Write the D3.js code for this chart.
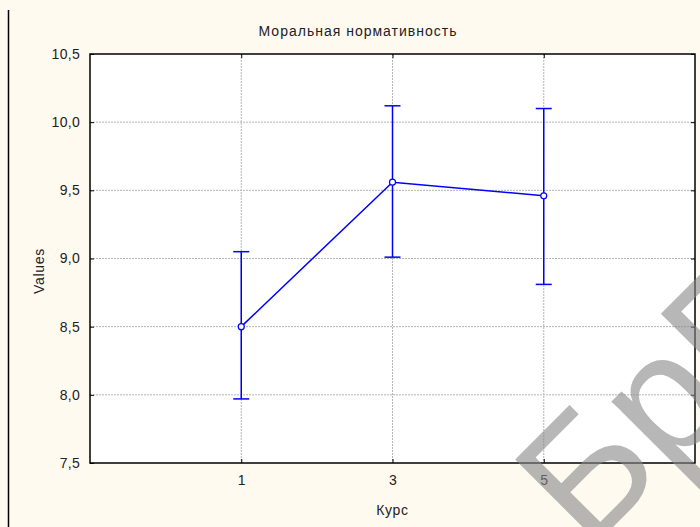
<!DOCTYPE html>
<meta charset="utf-8">
<title>Моральная нормативность</title>
<style>
  body { margin: 0; background: #fffaf0; }
  svg { display: block; font-family: "Liberation Sans", Arial, sans-serif; }
  .tick text { font-size: 14px; fill: #222; letter-spacing: 0.3px; }
</style>
<body>
<script src="https://cdn.jsdelivr.net/npm/d3@7"></script>
<script>

// data
var kurs = [1, 3, 5];
var means = [8.50, 9.56, 9.46];
var lower = [7.97, 9.01, 8.81];
var upper = [9.05, 10.12, 10.10];
var yTicks = [7.5, 8.0, 8.5, 9.0, 9.5, 10.0, 10.5];

var W = 700, H = 527;
var margin = {top: 54, right: 5, bottom: 64, left: 90};
var width = W - margin.left - margin.right;
var height = H - margin.top - margin.bottom;

var x = d3.scaleLinear().domain([-1, 7]).range([0, width]);
var y = d3.scaleLinear().domain([7.5, 10.5]).range([height, 0]);
var fmt = function(d) { return d3.format(".1f")(d).replace(".", ","); };

var svg = d3.select("body").append("svg")
    .attr("width", W)
    .attr("height", H);

svg.append("rect").attr("width", W).attr("height", H).attr("fill", "#fffaf0");

// left frame line
svg.append("line")
    .attr("x1", 8.5).attr("x2", 8.5)
    .attr("y1", 10).attr("y2", H)
    .attr("stroke", "#000").attr("stroke-width", 1.5);

var g = svg.append("g")
    .attr("transform", "translate(" + margin.left + "," + margin.top + ")");

g.append("rect")
    .attr("width", width).attr("height", height)
    .attr("fill", "#fff");

// grid
g.selectAll(".hgrid")
    .data(yTicks.slice(1, -1))
    .enter().append("line")
    .attr("x1", 0).attr("x2", width)
    .attr("y1", function(d) { return y(d); })
    .attr("y2", function(d) { return y(d); })
    .attr("stroke", "#b4b4b4").attr("stroke-dasharray", "2,1");

g.selectAll(".vgrid")
    .data(kurs)
    .enter().append("line")
    .attr("y1", 0).attr("y2", height)
    .attr("x1", function(d) { return x(d); })
    .attr("x2", function(d) { return x(d); })
    .attr("stroke", "#b4b4b4").attr("stroke-dasharray", "2,1");

// error bars
var cap = 8;
kurs.forEach(function(k, i) {
  g.append("line")
      .attr("x1", x(k)).attr("x2", x(k))
      .attr("y1", y(lower[i])).attr("y2", y(upper[i]))
      .attr("stroke", "#0000ff").attr("stroke-width", 1.5);
  [lower[i], upper[i]].forEach(function(v) {
    g.append("line")
        .attr("x1", x(k) - cap).attr("x2", x(k) + cap)
        .attr("y1", y(v)).attr("y2", y(v))
        .attr("stroke", "#0000ff").attr("stroke-width", 1.5);
  });
});

// mean line + points
var line = d3.line()
    .x(function(d, i) { return x(kurs[i]); })
    .y(function(d) { return y(d); });

g.append("path")
    .datum(means)
    .attr("d", line)
    .attr("fill", "none")
    .attr("stroke", "#0000ff")
    .attr("stroke-width", 1.5);

g.selectAll(".pt")
    .data(means)
    .enter().append("circle")
    .attr("cx", function(d, i) { return x(kurs[i]); })
    .attr("cy", function(d) { return y(d); })
    .attr("r", 3)
    .attr("fill", "#fff")
    .attr("stroke", "#0000ff")
    .attr("stroke-width", 1.2);

// watermark
svg.append("text")
    .attr("transform", "translate(588,552) rotate(-45)")
    .style("font-size", "170px")
    .attr("fill", "#888")
    .attr("opacity", 0.6)
    .text("БрГУ");

// axes, ticks pointing inwards
g.append("g")
    .attr("transform", "translate(0," + height + ")")
    .call(d3.axisBottom(x).tickValues(kurs).tickSizeInner(-4).tickSizeOuter(0).tickPadding(12))
    .call(function(a) { a.select(".domain").remove(); });

g.append("g")
    .call(d3.axisTop(x).tickValues(kurs).tickSizeInner(-4).tickSizeOuter(0).tickFormat(""))
    .call(function(a) { a.select(".domain").remove(); });

g.append("g")
    .call(d3.axisLeft(y).tickValues(yTicks).tickSizeInner(-4).tickSizeOuter(0).tickPadding(10).tickFormat(fmt))
    .call(function(a) { a.select(".domain").remove(); });

g.append("g")
    .attr("transform", "translate(" + width + ",0)")
    .call(d3.axisRight(y).tickValues(yTicks).tickSizeInner(-4).tickSizeOuter(0).tickFormat(""))
    .call(function(a) { a.select(".domain").remove(); });

g.selectAll(".tick line").attr("stroke", "#000");

g.append("rect")
    .attr("width", width).attr("height", height)
    .attr("fill", "none")
    .attr("stroke", "#000")
    .attr("stroke-width", 1.5);

// labels
svg.append("text")
    .attr("x", 358).attr("y", 36)
    .attr("text-anchor", "middle")
    .style("font-size", "14px")
    .style("letter-spacing", "1px")
    .attr("fill", "#222")
    .text("Моральная нормативность");

svg.append("text")
    .attr("x", margin.left + width / 2).attr("y", 515)
    .attr("text-anchor", "middle")
    .style("font-size", "14px")
    .style("letter-spacing", "0.7px")
    .attr("fill", "#222")
    .text("Курс");

svg.append("text")
    .attr("transform", "translate(44,271) rotate(-90)")
    .attr("text-anchor", "middle")
    .style("font-size", "14px")
    .style("letter-spacing", "0.7px")
    .attr("fill", "#222")
    .text("Values");

</script>
</body>
